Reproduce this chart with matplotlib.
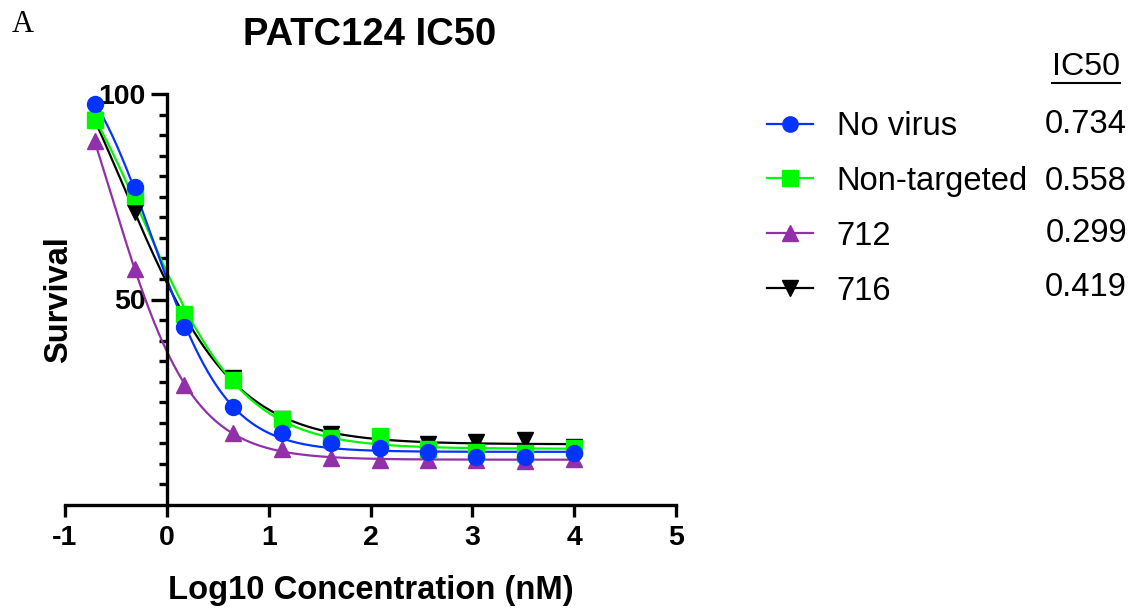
import numpy as np
import matplotlib
matplotlib.use("Agg")
import matplotlib.pyplot as plt
from matplotlib.lines import Line2D

plt.rcParams['font.family'] = ['Liberation Sans', 'DejaVu Sans']
plt.rcParams['axes.unicode_minus'] = False

# log10 concentration (nM)
log_conc = [-0.71, -0.31, 0.17, 0.65, 1.13, 1.61, 2.09, 2.56, 3.04, 3.52, 4.0]

no_virus = [97.6, 77.3, 43.2, 23.9, 17.6, 15.1, 13.9, 12.9, 11.7, 11.7, 12.7]
non_targeted = [93.7, 75.1, 46.5, 30.5, 21.0, 16.3, 16.8, 13.7, 12.9, 12.7, 13.9]
g712 = [88.5, 57.3, 29.2, 17.6, 13.7, 11.5, 11.0, 11.0, 11.0, 10.7, 11.2]
g716 = [93.6, 71.2, 45.5, 31.0, 21.0, 17.3, 16.0, 14.9, 15.4, 15.9, 14.0]

series_names = ['No virus', 'Non-targeted', '712', '716']
ic50_values = ['0.734', '0.558', '0.299', '0.419']
colors = ['#0433ff', '#00f900', '#9130a8', '#000000']
markers = ['o', 's', '^', 'v']
# stacking as in the original: blue on top, black at the bottom
layers = [3.4, 3.3, 3.2, 3.1]


def fit_4pl(x, y):
    # grid search on midpoint / slope, linear least squares for top & bottom
    x = np.asarray(x)
    y = np.asarray(y)
    c = np.linspace(-2.0, 1.5, 351)[:, None, None]
    h = np.linspace(0.3, 3.0, 271)[None, :, None]
    g = 1.0 / (1.0 + 10 ** ((x[None, None, :] - c) * h))
    gm = g.mean(axis=2, keepdims=True)
    ym = y.mean()
    slope = ((g - gm) * (y - ym)).sum(axis=2, keepdims=True) / ((g - gm) ** 2).sum(axis=2, keepdims=True)
    icpt = ym - slope * gm
    res = ((icpt + slope * g - y) ** 2).sum(axis=2)
    i, j = np.unravel_index(np.argmin(res), res.shape)
    bottom = icpt[i, j, 0]
    span = slope[i, j, 0]
    return lambda xx: bottom + span / (1.0 + 10 ** ((xx - c[i, 0, 0]) * h[0, j, 0]))


fig = plt.figure(figsize=(11.34, 6.12), dpi=100)
ax = fig.add_axes([65 / 1134, 1 - 505 / 612, 611 / 1134, 411 / 612])

xs = np.linspace(min(log_conc), max(log_conc), 300)
handles = []
for vals, col, mk, z in zip([no_virus, non_targeted, g712, g716], colors, markers, layers):
    curve = fit_4pl(log_conc, vals)
    ax.plot(xs, curve(xs), color=col, lw=1.6, zorder=z - 1)
    ax.plot(log_conc, vals, ls='none', marker=mk, color=col, ms=11.5, zorder=z)
    handles.append(Line2D([], [], color=col, lw=1.6, marker=mk, ms=11))

ax.set_xlim(-1, 5)
ax.set_ylim(0, 100)
ax.set_xticks(range(-1, 6))
ax.set_yticks([50, 100])
ax.set_yticks(np.arange(5, 100, 5), minor=True)

ax.spines['top'].set_visible(False)
ax.spines['right'].set_visible(False)
ax.spines['left'].set_position(('data', 0))
ax.spines['left'].set_linewidth(2.4)
ax.spines['bottom'].set_linewidth(2.4)

ax.tick_params(axis='x', which='major', length=8.5, width=2.4, labelsize=20.5, pad=6)
ax.tick_params(axis='y', which='major', length=11.5, width=2.4, labelsize=20.5, pad=4)
ax.tick_params(axis='y', which='minor', length=5.5, width=2.4)
for lab in ax.get_xticklabels() + ax.get_yticklabels():
    lab.set_fontweight('bold')

ax.set_xlabel('Log10 Concentration (nM)', fontsize=23.6, fontweight='bold')
ax.xaxis.set_label_coords(0.5, -0.17)
ax.set_ylabel('Survival', fontsize=23.5, fontweight='bold')
ax.yaxis.set_label_coords(0.014, 0.5)

fig.text(370 / 1134, 1 - 35 / 612, 'PATC124 IC50', fontsize=27.5, fontweight='bold',
         ha='center', va='center')
fig.text(12 / 1134, 1 - 25 / 612, 'A', family='Liberation Serif', fontsize=22, va='center')

fig.legend(handles, series_names, loc='upper left', bbox_to_anchor=(767 / 1134, 1 - 111 / 612),
           frameon=False, fontsize=23.6, handlelength=1.4, handletextpad=0.73,
           labelspacing=0.73, borderpad=0, borderaxespad=0)

rows_y = [125, 181, 233, 287]
for val, yy in zip(ic50_values, rows_y):
    fig.text(1127 / 1134, 1 - yy / 612, val, fontsize=23.6, ha='right', va='center')

hdr = fig.text(1120 / 1134, 1 - 67 / 612, 'IC50', fontsize=23.2, ha='right', va='center')
fig.canvas.draw()
bb = hdr.get_window_extent().transformed(fig.transFigure.inverted())
fig.add_artist(Line2D([bb.x0, bb.x1], [1 - 83 / 612] * 2, color='black', lw=1.5,
                      transform=fig.transFigure))

fig.savefig('out.png', dpi=100)
